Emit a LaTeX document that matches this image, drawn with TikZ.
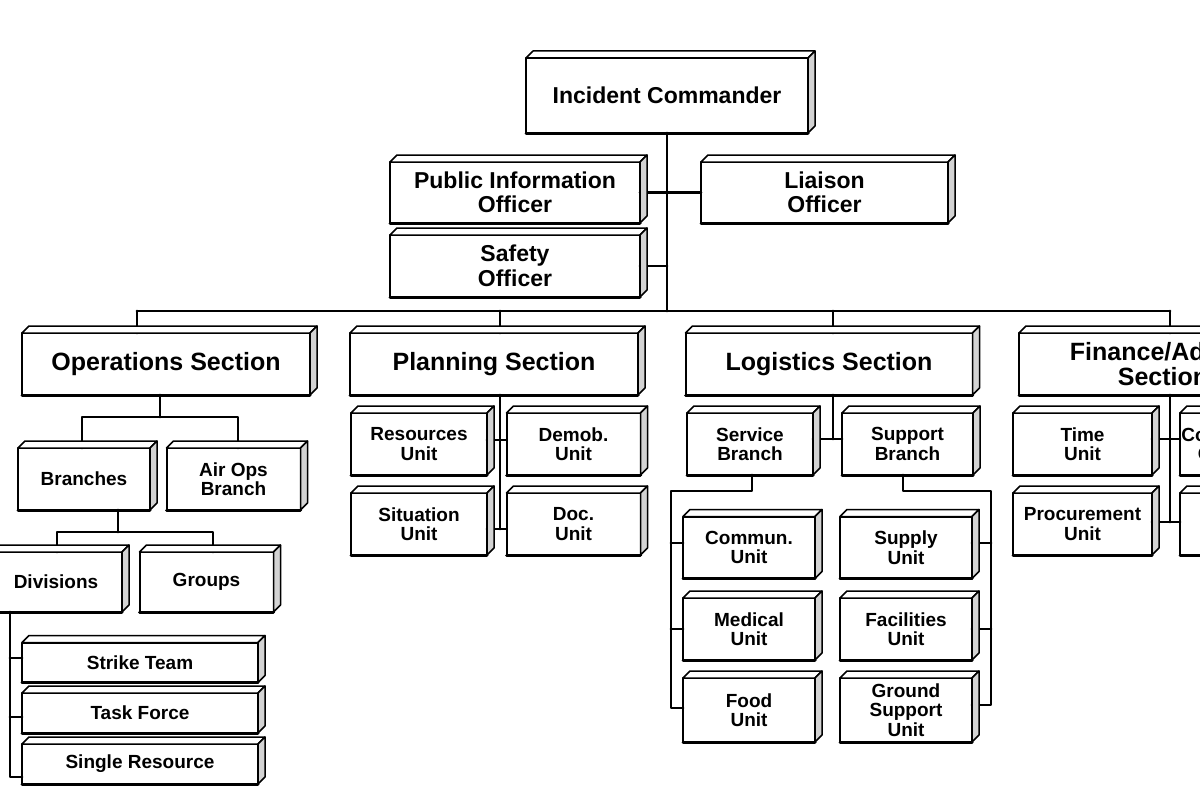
\documentclass[tikz,border=0pt]{standalone}
\usepackage{fontspec}
\setmainfont{Liberation Sans}
\usepackage[svgnames]{xcolor}
\usepackage{tikz}
\usetikzlibrary{calc}

\tikzset{
  box/.style={draw, line width=2pt, fill=white, inner sep=0pt, outer sep=0pt, align=center,
    font=\bfseries\fontsize{19}{19.5}\selectfont, minimum width=134, minimum height=62},
  officer/.style={box, font=\bfseries\fontsize{23}{24.5}\selectfont, minimum width=250, minimum height=61},
  section/.style={box, font=\bfseries\fontsize{25}{25}\selectfont, minimum width=288, minimum height=62},
  team/.style={box, minimum width=236, minimum height=40},
  link/.style={line width=2.8pt, color=black},
  face top/.style={fill=white, draw=black, line width=1.5pt, line join=round},
  face side/.style={fill=LightGray, draw=black, line width=1.5pt, line join=round},
}
\newcommand{\boxface}[1]{%
  \filldraw[face top] (#1.north west) -- ++(7,-7) -- ([shift={(7,-7)}]#1.north east) -- (#1.north east) -- cycle;
  \filldraw[face side] (#1.north east) -- ++(7,-7) -- ([shift={(7,-7)}]#1.south east) -- (#1.south east) -- cycle;
  \draw[line width=3pt] (#1.south west) -- (#1.south east);
}

\begin{document}
\begin{tikzpicture}[line cap=round,line join=round,x=1.0pt,y=-1.0pt]
\useasboundingbox (0,0) rectangle (1200,800);
\clip (0,0) rectangle (1200,800);
\node[officer, minimum width=282, minimum height=75] (ic) at (667,95.5) {Incident Commander};
\node[officer] (pio) at (515,192.5) {Public Information\\Officer};
\node[officer, minimum width=247] (lia) at (824.5,192.5) {Liaison\\Officer};
\node[officer, minimum height=62] (saf) at (515,266) {Safety\\Officer};
\node[section] (ops) at (166,364) {Operations Section};
\node[section] (plan) at (494,364) {Planning Section};
\node[section, minimum width=287] (logi) at (829,364) {Logistics Section};
\node[section] (fin) at (1163,364) {Finance/Admin.\\Section};
\node[box, minimum width=132] (bra) at (84,479) {Branches};
\node[box] (air) at (233.5,479) {Air Ops\\Branch};
\node[box, minimum width=132, minimum height=60] (div) at (56,582) {Divisions};
\node[box, minimum height=60] (grp) at (206.5,582) {Groups};
\node[team] (st) at (140,662.5) {Strike Team};
\node[team] (tf) at (140,713) {Task Force};
\node[team] (sr) at (140,764) {Single Resource};
\node[box, minimum width=136] (res) at (419,444) {Resources\\Unit};
\node[box] (dem) at (573.5,444) {Demob.\\Unit};
\node[box, minimum width=136] (sit) at (419,524) {Situation\\Unit};
\node[box] (doc) at (573.5,524) {Doc.\\Unit};
\node[box, minimum width=126] (ser) at (750,444) {Service\\Branch};
\node[box, minimum width=131] (sup) at (907.5,444) {Support\\Branch};
\node[box, minimum width=132] (com) at (749,547.5) {Commun.\\Unit};
\node[box, minimum width=132] (med) at (749,629) {Medical\\Unit};
\node[box, minimum width=132, minimum height=64] (food) at (749,710) {Food\\Unit};
\node[box, minimum width=132] (spl) at (906,547.5) {Supply\\Unit};
\node[box, minimum width=132] (fac) at (906,629) {Facilities\\Unit};
\node[box, minimum width=132, minimum height=64] (gsu) at (906,710) {Ground\\Support\\Unit};
\node[box, minimum width=139] (time) at (1082.5,444) {Time\\Unit};
\node[box, minimum width=140] (comp) at (1250,444) {Compensation/\\Claims Unit};
\node[box, minimum width=139] (proc) at (1082.5,524) {Procurement\\Unit};
\node[box, minimum width=140] (cost) at (1250,524) {Cost\\Unit};
\coordinate (bus) at (667,311);
\coordinate (opsj) at (160,417);
\coordinate (braj) at (118,532);
\coordinate (divl) at (10,612);
\coordinate (planj) at (500,529);
\coordinate (logj) at (833,439);
\coordinate (finj) at (1170,522);
\draw[link] (ic.south) -- (bus);
\draw[link] (pio.east) -- (lia.west);
\draw[link] (saf.east) -- (saf.east -| bus);
\draw[link] (137,311) -- (1170,311);
\foreach \s/\x in {ops/137,plan/500,logi/833,fin/1170}
\draw[link] (\x,311) -- (\s.north -| \x,311);
\draw[link] (ops.south -| opsj) -- (opsj);
\draw[link] ([xshift=-2]bra.north) |- (opsj);
\draw[link] ([xshift=4.5]air.north) |- (opsj);
\draw[link] (bra.south -| braj) -- (braj);
\draw[link] ([xshift=1]div.north) |- (braj);
\draw[link] ([xshift=6.5]grp.north) |- (braj);
\draw[link] (div.south -| divl) |- (sr.west |- 0,777);
\foreach \n/\y in {st/658,tf/717}
\draw[link] (divl |- 0,\y) -- (\n.west |- 0,\y);
\draw[link] (plan.south -| planj) -- (planj);
\draw[link] (res.east |- 0,440) -- (dem.west |- 0,440);
\draw[link] (sit.east |- planj) -- (doc.west |- planj);
\draw[link] (logi.south -| logj) -- (logj);
\draw[link] (ser.east |- logj) -- (sup.west |- logj);
\draw[link] (ser.south -| 752,0) |- (671,491) |- (food.west |- 0,708);
\foreach \n/\y in {com/543,med/629}
\draw[link] (671,\y) -- (\n.west |- 0,\y);
\draw[link] (sup.south -| 903,0) |- (991,491) |- (gsu.east |- 0,705);
\foreach \n/\y in {spl/543,fac/629}
\draw[link] (991,\y) -- (\n.east |- 0,\y);
\draw[link] (fin.south -| finj) -- (finj);
\draw[link] (time.east |- 0,439) -- (comp.west |- 0,439);
\draw[link] (proc.east |- finj) -- (cost.west |- finj);
\foreach \n in {ic,pio,lia,saf,ops,plan,logi,fin,bra,air,div,grp,st,tf,sr,res,dem,sit,doc,ser,sup,com,med,food,spl,fac,gsu,time,comp,proc,cost}
{\boxface{\n}}
\end{tikzpicture}
\end{document}
